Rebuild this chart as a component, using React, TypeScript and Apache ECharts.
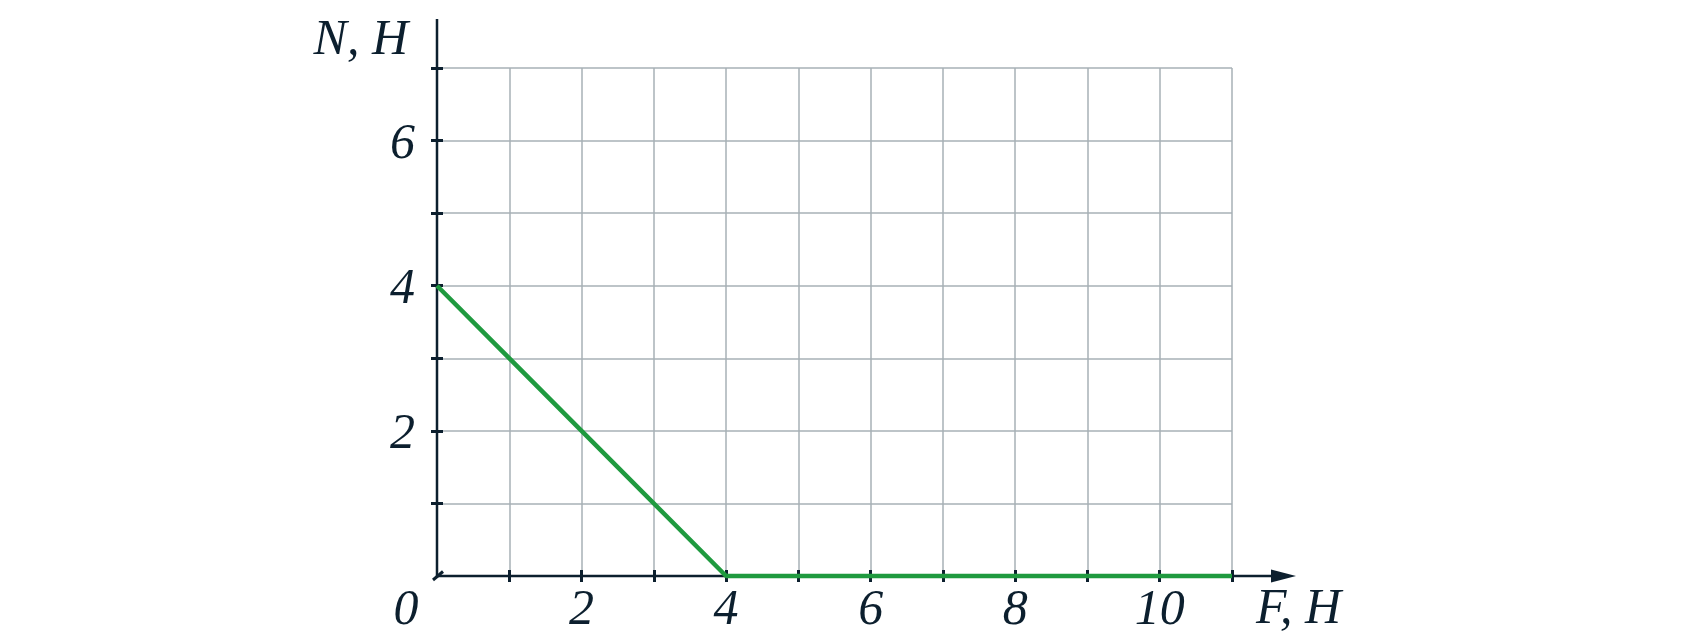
import React, { useEffect, useRef } from "react";
import * as echarts from "echarts";

const forceF = [0, 4, 11];
const normalN = [4, 0, 0];
const xTickValues = [1, 2, 3, 4, 5, 6, 7, 8, 9, 10, 11];
const xLabelValues = [2, 4, 6, 8, 10];
const yTickValues = [1, 2, 3, 4, 5, 6, 7];
const yLabelValues = [2, 4, 6];
const xName = "F, H";
const yName = "N, H";
const originLabel = "0";

const DARK = "#0c1f2e";
const GRID = "#a7b0b6";
const GREEN = "#1f9a3f";
const FONT = "Liberation Serif";
const FS = 50;

export default function App() {
  const ref = useRef<HTMLDivElement>(null);
  useEffect(() => {
    if (!ref.current) return;
    const chart = echarts.init(ref.current, undefined, { renderer: "svg" });
    const labelStyle = {
      color: DARK,
      fontSize: FS,
      fontStyle: "italic" as const,
      fontFamily: FONT,
    };
    const xBase = {
      type: "value" as const,
      min: 0,
      max: 11,
      interval: 1,
      axisLine: { show: false },
    };
    const yBase = {
      type: "value" as const,
      min: 0,
      max: 7,
      interval: 1,
      axisLine: { show: false },
    };
    chart.setOption({
      animation: false,
      grid: { left: 437, right: 455, top: 68, bottom: 59, containLabel: false },
      xAxis: [
        {
          ...xBase,
          axisTick: {
            show: true,
            inside: false,
            length: 6,
            customValues: xTickValues,
            lineStyle: { color: DARK, width: 3 },
          },
          axisLabel: {
            ...labelStyle,
            customValues: xLabelValues,
            verticalAlign: "middle",
            margin: 31,
          },
          splitLine: { show: true, lineStyle: { color: GRID, width: 1.5 } },
        },
        {
          ...xBase,
          position: "bottom",
          axisTick: {
            show: true,
            inside: true,
            length: 6,
            customValues: xTickValues,
            lineStyle: { color: DARK, width: 3 },
          },
          axisLabel: { show: false },
          splitLine: { show: false },
        },
      ],
      yAxis: [
        {
          ...yBase,
          axisTick: {
            show: true,
            inside: false,
            length: 6,
            customValues: yTickValues,
            lineStyle: { color: DARK, width: 3 },
          },
          axisLabel: {
            ...labelStyle,
            customValues: yLabelValues,
            margin: 22,
          },
          splitLine: { show: true, lineStyle: { color: GRID, width: 1.5 } },
        },
        {
          ...yBase,
          position: "left",
          axisTick: {
            show: true,
            inside: true,
            length: 6,
            customValues: yTickValues,
            lineStyle: { color: DARK, width: 3 },
          },
          axisLabel: { show: false },
          splitLine: { show: false },
        },
      ],
      series: [
        {
          type: "line",
          data: forceF.map((f, i) => [f, normalN[i]]),
          showSymbol: false,
          clip: false,
          z: 5,
          lineStyle: { color: GREEN, width: 4.5 },
        },
      ],
    });

    const o = chart.convertToPixel({ xAxisIndex: 0, yAxisIndex: 0 }, [0, 0]) as number[];
    const xEnd = chart.convertToPixel({ xAxisIndex: 0, yAxisIndex: 0 }, [11, 0]) as number[];
    const yTop = chart.convertToPixel({ xAxisIndex: 0, yAxisIndex: 0 }, [0, 7]) as number[];
    const ox = o[0];
    const oy = o[1];
    const arrowTip = xEnd[0] + 64;
    const arrowBase = arrowTip - 25;
    const yAxisTop = yTop[1] - 49;
    const textStyle = (text: string, align: string) => ({
      text,
      fill: DARK,
      fontSize: FS,
      fontStyle: "italic",
      fontFamily: FONT,
      align,
      verticalAlign: "middle",
    });

    chart.setOption({
      graphic: [
        {
          type: "line",
          z: 3,
          shape: { x1: ox, y1: oy, x2: arrowBase + 2, y2: oy },
          style: { stroke: DARK, lineWidth: 2.5 },
        },
        {
          type: "polygon",
          z: 3,
          shape: {
            points: [
              [arrowBase, oy - 6.5],
              [arrowTip, oy],
              [arrowBase, oy + 6.5],
            ],
          },
          style: { fill: DARK },
        },
        {
          type: "line",
          z: 3,
          shape: { x1: ox, y1: oy + 1.2, x2: ox, y2: yAxisTop },
          style: { stroke: DARK, lineWidth: 2.5 },
        },
        {
          type: "line",
          z: 3,
          shape: { x1: ox - 4, y1: oy + 4, x2: ox + 6, y2: oy - 4.5 },
          style: { stroke: DARK, lineWidth: 3 },
        },
        {
          type: "text",
          z: 3,
          x: ox - 31,
          y: oy + 31,
          style: textStyle(originLabel, "center"),
        },
        {
          type: "text",
          z: 3,
          x: arrowBase - 15,
          y: oy + 30,
          style: textStyle(xName, "left"),
        },
        {
          type: "text",
          z: 3,
          x: ox - 29,
          y: yAxisTop + 18,
          style: textStyle(yName, "right"),
        },
      ],
    });

    return () => chart.dispose();
  }, []);
  return (
    <div
      ref={ref}
      style={{ position: "fixed", left: 0, top: 0, width: 1687, height: 635 }}
    />
  );
}
